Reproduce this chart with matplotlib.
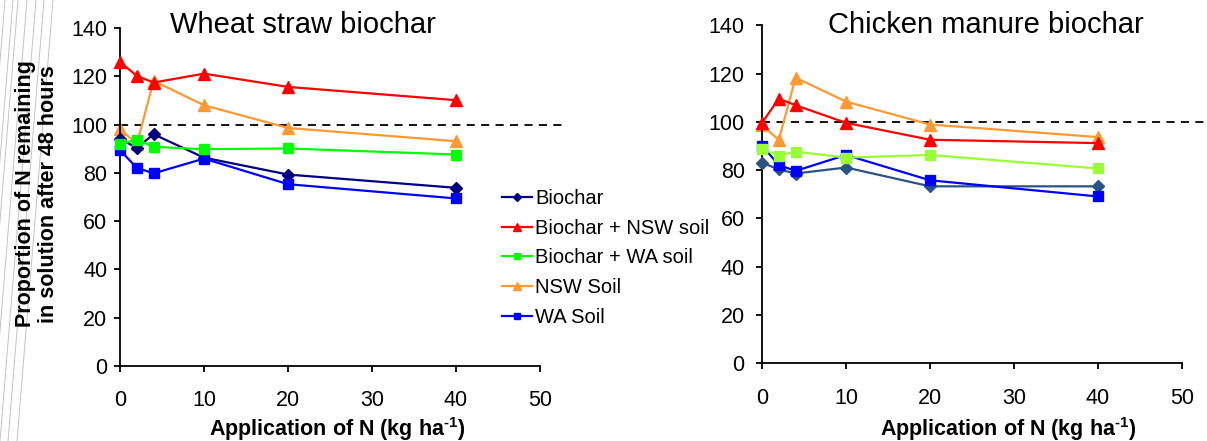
import matplotlib
matplotlib.use("Agg")
import matplotlib.pyplot as plt
from matplotlib.lines import Line2D

plt.rcParams['font.family'] = ['Liberation Sans', 'DejaVu Sans']

# ---- data ----
n_applied = [0, 2, 4, 10, 20, 40]
series_labels = ["Biochar", "Biochar + NSW soil", "Biochar + WA soil", "NSW Soil", "WA Soil"]

ws_biochar = [94.2, 90.3, 96.0, 86.3, 79.3, 73.8]
ws_biochar_nsw = [125.9, 120.2, 117.4, 121.1, 115.6, 110.1]
ws_biochar_wa = [91.9, 93.8, 90.8, 89.8, 90.1, 87.6]
ws_nsw_soil = [98.3, 91.9, 118.1, 108.0, 98.6, 93.1]
ws_wa_soil = [89.4, 82.1, 79.8, 85.9, 75.3, 69.4]

cm_biochar = [83.1, 80.3, 78.6, 81.1, 73.3, 73.3]
cm_biochar_nsw = [99.6, 109.6, 106.9, 99.6, 92.6, 91.2]
cm_biochar_wa = [88.8, 86.0, 87.7, 85.2, 86.3, 80.7]
cm_nsw_soil = [98.5, 92.6, 118.3, 108.4, 98.9, 93.7]
cm_wa_soil = [90.2, 82.1, 79.7, 86.3, 75.8, 69.1]

reference_level = 100
x_ticks = [0, 10, 20, 30, 40, 50]
y_ticks = [0, 20, 40, 60, 80, 100, 120, 140]

fig = plt.figure(figsize=(12.07, 4.41), dpi=100)

# faint diagonal lines at left edge (scan artefact)
for tx in [5, 13, 18, 27, 36, 44, 53]:
    fig.add_artist(Line2D([tx / 1207, (tx - 36) / 1207], [1, 0],
                          transform=fig.transFigure, color='#c4c4c4', lw=0.7))

def draw(ax, vals, colors, ypad):
    styles = [
        dict(marker='D', ms=6.3),
        dict(marker='^', ms=8),
        dict(marker='s', ms=6.5),
        dict(marker='^', ms=8),
        dict(marker='s', ms=6.5),
    ]
    zorders = [3, 6, 5, 2, 4]
    for v, c, st, z, lab in zip(vals, colors, styles, zorders, series_labels):
        ax.plot(n_applied, v, color=c, lw=1.6, marker=st['marker'], ms=st['ms'],
                mec=c, mfc=c, zorder=z, label=lab, clip_on=False)
    ax.plot([0, 53.2], [reference_level, reference_level], color='black', lw=1.3,
            ls=(0, (4.5, 3.5)), clip_on=False, zorder=1)
    ax.set_xlim(0, 50)
    ax.set_ylim(0, 140)
    ax.set_xticks(x_ticks)
    ax.set_yticks(y_ticks)
    for s in ['top', 'right']:
        ax.spines[s].set_visible(False)
    for s in ['left', 'bottom']:
        ax.spines[s].set_linewidth(1.3)
    ax.tick_params(axis='both', direction='out', length=4, width=1.3, labelsize=15.5)
    ax.tick_params(axis='x', pad=13.5)
    ax.tick_params(axis='y', pad=ypad)

ax1 = fig.add_axes([120 / 1207, 1 - 366 / 441, 420 / 1207, 338 / 441])
draw(ax1, [ws_biochar, ws_biochar_nsw, ws_biochar_wa, ws_nsw_soil, ws_wa_soil],
     ['#000080', '#ff0000', '#00ff00', '#ff9933', '#0000ff'], 5)

ax2 = fig.add_axes([762 / 1207, 1 - 363.3 / 441, 420 / 1207, 338 / 441])
draw(ax2, [cm_biochar, cm_biochar_nsw, cm_biochar_wa, cm_nsw_soil, cm_wa_soil],
     ['#2a5384', '#ff0000', '#99ff33', '#ff9933', '#0000ff'], 8.5)

fig.text(303 / 1207, 1 - 25 / 441, "Wheat straw biochar", ha='center', va='center', fontsize=21)
fig.text(986 / 1207, 1 - 25 / 441, "Chicken manure biochar", ha='center', va='center', fontsize=21)

xlabel = "Application of N (kg ha$^{\\mathregular{\u2010 1}}$)"
fig.text(337 / 1207, 1 - 429 / 441, xlabel,
         ha='center', va='center', fontsize=15.5, fontweight='bold')
fig.text(1008 / 1207, 1 - 429 / 441, xlabel,
         ha='center', va='center', fontsize=15.5, fontweight='bold')

fig.text(37 / 1207, 1 - 194 / 441, "Proportion of N remaining\nin solution after 48 hours",
         ha='center', va='center', rotation=90, fontsize=15.5, fontweight='bold',
         linespacing=1.12)

handles, labels = ax1.get_legend_handles_labels()
leg_handles = []
for h in handles:
    leg_handles.append(Line2D([], [], color=h.get_color(), lw=1.6, marker=h.get_marker(),
                              ms=h.get_markersize() * 0.7, mfc=h.get_color(), mec=h.get_color()))
fig.legend(leg_handles, labels, loc='upper left', bbox_to_anchor=(502 / 1207, 1 - 189 / 441),
           frameon=False, fontsize=14.5, handlelength=1.5, handletextpad=0.15,
           labelspacing=0.53, borderaxespad=0, borderpad=0)

fig.savefig("out.png", dpi=100)
